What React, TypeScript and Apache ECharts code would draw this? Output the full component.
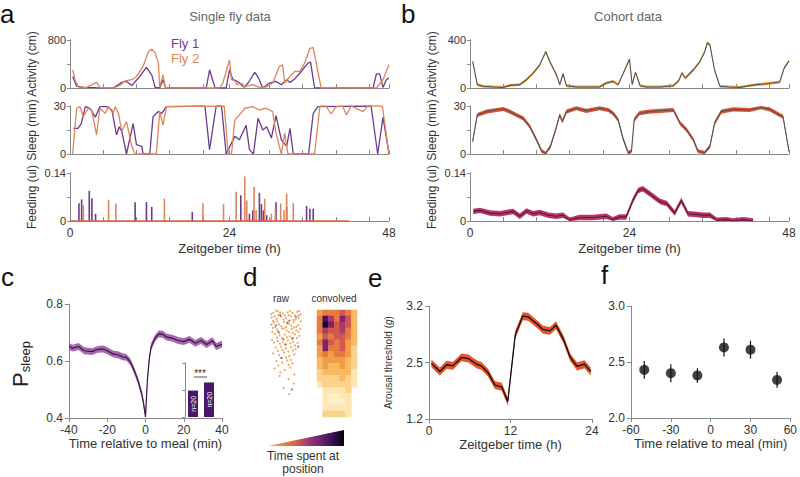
import React, { useEffect, useRef } from "react";
import * as echarts from "echarts";

const FONT = "'Liberation Sans', Arial, Helvetica, sans-serif";
const AXIS = "#8a8a8a";
const TXT = "#333";

// ---------- Panel a: single fly data (Zeitgeber time h) ----------
const FLY1_ACTIVITY = [[0.4,193],[1,30],[2,10],[4,5],[6.5,0],[7.8,94],[8.5,110],[9.3,40],[10.3,166],[11.5,342],[12.3,220],[12.8,10],[13.5,0],[14,138],[14.4,0],[20.5,0],[21,304],[21.8,10],[22.5,0],[23.5,0],[24,304],[24.5,138],[25,121],[25.5,83],[26.2,10],[26.8,83],[27.8,260],[28.3,182],[29,0],[30,83],[31,110],[31.8,55],[32.6,138],[33.1,90],[33.8,149],[34.5,237],[35.8,414],[36.2,430],[36.8,0],[45.6,0],[46.1,237],[46.6,237],[47.1,10],[47.6,138],[48,166]];
const FLY2_ACTIVITY = [[0.4,304],[0.75,138],[1.25,17],[2.5,10],[4,94],[4.5,10],[6.5,0],[7.5,40],[8.3,120],[9.3,138],[10,193],[11,360],[11.8,607],[12.3,646],[12.8,590],[13.3,414],[13.5,17],[14,220],[14.3,17],[14.5,0],[22.5,0],[23,83],[24,469],[24.3,138],[24.8,121],[25.1,55],[25.8,83],[26.3,17],[27.5,55],[28.5,10],[29.5,17],[30.5,83],[31.5,360],[32,386],[32.3,83],[33,182],[33.8,276],[34.6,276],[35.3,414],[36.1,662],[36.6,673],[37.1,386],[37.8,0],[39.6,8],[40,0],[46.1,0],[47.1,138],[48,386]];
const FLY1_SLEEP = [[0.5,16],[1.2,16],[1.7,19],[2.3,29.6],[3,28.6],[3.8,23],[4.5,29.6],[5.5,29.6],[6.3,27.5],[7,12],[7.4,17],[7.8,14],[8.5,0],[9.5,19],[10,5.8],[10.8,4.8],[11,0],[12,0],[12.5,23.4],[13.3,26.5],[13.8,25.4],[14.5,29.6],[20.3,30],[21,2.7],[22,30],[22.8,30],[23.5,0],[24.8,11],[25.5,8.9],[26.5,18],[27,2.7],[27.6,0],[28.3,22.4],[29,15],[29.6,17],[30.3,10],[31,24],[31.8,8.9],[32.6,4.8],[33.1,16],[33.6,0],[35.9,0],[36.6,25.4],[37.3,29.6],[45.3,30],[46.3,0],[47.1,23],[48,0]];
const FLY2_SLEEP = [[0.4,0],[1,28.6],[1.5,29.6],[2,23.4],[2.75,28.6],[3.25,27.5],[4,12],[4.5,28.6],[5.3,25.4],[5.8,29.6],[6.5,25.4],[6.8,29.6],[7.3,25.4],[7.8,14],[8.5,20.3],[9.3,4.8],[9.8,0],[13,0],[13.5,26.5],[14,18],[14.5,29.6],[23.2,30],[23.8,0],[24.3,0],[24.8,21.3],[25.5,24.4],[26.3,28.6],[27.5,29.6],[28.5,27.5],[29.5,28.6],[30.5,26.5],[31,13],[31.5,4.8],[31.8,0],[32.3,13],[32.8,0],[36.8,0],[37.6,30],[38.5,30],[39.3,25],[40,29.5],[41,30],[41.6,24.4],[42.3,30],[44.1,26.5],[44.8,30],[47,30],[48,0]];
const FLY1_FEEDING = [[1.35,0.052],[1.75,0.063],[2.9,0.088],[3.3,0.066],[3.85,0.021],[9.8,0.055],[11.5,0.055],[12.3,0.041],[18.4,0.026],[25.7,0.075],[27,0.021],[27.5,0.031],[28.5,0.082],[28.8,0.05],[29.1,0.031],[29.6,0.017],[31,0.055],[32.6,0.041],[35.6,0.044],[36.1,0.036],[36.6,0.036]];
const FLY2_FEEDING = [[2,0.046],[5.8,0.062],[6.9,0.051],[14.2,0.065],[20,0.052],[23.1,0.049],[25,0.085],[26.3,0.13],[26.6,0.06],[27.7,0.099],[28,0.031],[29.3,0.065],[30.3,0.021],[30.9,0.036],[31.7,0.051],[32.2,0.031],[32.6,0.08],[33.6,0.052]];
const FEED_BASELINE = [[0, 0], [42, 0]];

// ---------- Panel b: cohort data ----------
const COHORT_ACTIVITY = [[0.4,221],[1.1,28],[2,14],[3.5,8],[5,5],[6,22],[7.5,28],[8.5,69],[9.5,124],[10.5,193],[11.4,303],[12,221],[13,110],[13.5,28],[14,119],[14.5,19],[16,8],[18,8],[19.5,8],[20.5,41],[21.5,55],[22.3,28],[24,240],[24.4,28],[24.9,130],[25.6,19],[26.6,8],[28.6,8],[30.6,19],[31.4,60],[31.9,125],[32.4,83],[33.6,150],[34.6,220],[35.3,300],[35.7,375],[36.1,360],[36.8,150],[37.6,15],[39,8],[40.6,5],[43.1,28],[44.6,35],[46.6,50],[47.3,170],[48,225]];
const COHORT_ACTIVITY_SEM = 12;
const COHORT_SLEEP = [[0.4,7.9],[1.1,24.4],[2.5,26.5],[4,27.5],[5,28.1],[6,26.5],[7,24.4],[8,22.3],[9,17.2],[10,8.9],[10.8,1.7],[11.4,0.2],[12.1,4.8],[12.8,14],[13.5,24.4],[13.9,20.3],[14.5,26.5],[16,28.6],[17.5,27],[19.5,28.6],[20.8,27.5],[21.5,25.5],[22.3,21.3],[23,10],[23.8,0.6],[24.3,1.7],[24.7,21.3],[25.5,25.5],[27,26.5],[28.6,27],[30.6,27.5],[31.6,19.3],[32.6,15.1],[33.6,8.9],[34.3,1.7],[35.3,0.6],[36.1,4.8],[36.8,19.3],[37.8,26.5],[39.6,27.9],[42.1,27.5],[43.8,29.2],[45.1,27.9],[46.6,24.4],[47.1,23.4],[48,1.7]];
const COHORT_SLEEP_SEM = 1.3;
const COHORT_FEEDING = [[0.5,0.028],[1.5,0.031],[3,0.023],[4.5,0.021],[6.5,0.028],[7.5,0.014],[8.5,0.029],[9.5,0.021],[10.5,0.025],[11.8,0.017],[13,0.014],[14,0.017],[15,0.002],[16.5,0.01],[18.5,0.01],[20.5,0.014],[21.5,0.004],[22.5,0.012],[23.5,0.012],[24.5,0.06],[25.3,0.089],[26,0.094],[27,0.08],[28.6,0.057],[29.6,0.051],[30.8,0.023],[31.8,0.06],[32.8,0.021],[34.1,0.019],[35.1,0.017],[36.1,0.017],[37.1,0.002],[38.6,0.004],[39.6,0],[41.1,0.004],[42.6,0]];
const COHORT_FEEDING_SEM = 0.008;

const TICKS_48 = [0, 5, 10, 15, 20, 24, 30, 35, 40, 45, 48];
const LABELS_48 = [0, 24, 48];

// ---------- Panel c: P(sleep) around meals ----------
const C_MINUTES = [-40,-38,-35,-32,-28,-25,-22,-20,-17,-14,-12,-10,-8,-6,-4,-2,-1,0,1,2,3,5,7,9,11,14,17,20,23,26,29,32,35,37,40];
const C_PSLEEP = [0.651,0.645,0.651,0.636,0.633,0.641,0.642,0.636,0.625,0.621,0.615,0.613,0.598,0.568,0.533,0.486,0.451,0.404,0.533,0.609,0.651,0.68,0.695,0.694,0.684,0.68,0.672,0.668,0.676,0.662,0.672,0.658,0.671,0.651,0.659];
const C_SEM = 0.012;
const INSET_CATS = ["before", "after"];
const INSET_VALUES = [0.49, 0.64];
const INSET_N = ["n=20", "n=20"];

// ---------- Panel d: position heat maps ----------
const RAW_DOTS = [[1,1],[2.5,0.5],[4,1.2],[5.5,0.8],[7,1],[8.5,0.6],[9.5,1.5],[0.5,2.5],[2,3],[3.5,2.2],[5,2.8],[6.5,2.1],[8,3.2],[9,2.6],[1.2,4.2],[2.8,4.8],[4.4,4],[6,4.6],[7.4,4.1],[8.8,5],[0.8,6],[2.2,6.5],[3.8,6.2],[5.2,6.9],[6.8,6.3],[8.2,6.8],[1.5,8],[3,8.5],[4.6,8.2],[6.2,8.8],[7.8,8.1],[9.2,8.6],[0.6,10],[2.4,10.4],[4,10.8],[5.6,10.2],[7.2,10.6],[8.6,11],[1.8,12.5],[3.4,12.2],[5,12.8],[6.6,12.4],[8,13],[1,14.5],[2.8,15],[4.4,14.2],[6,15.4],[7.6,14.8],[2,17],[3.8,17.5],[5.4,16.8],[7,17.8],[1.4,19.5],[4.6,20],[6.4,19.2],[3,22],[5.8,23],[7.4,24.5],[4.2,26],[6,28],
  [1.8,0.2],[3.2,0.9],[6.2,0.4],[7.8,1.8],[9.1,0.3],[0.3,1.4],[4.7,1.9],[1.4,2.1],[2.7,1.6],[5.8,1.7],[8.9,1.9],[0.9,3.6],[2.3,3.8],[4.2,3.2],[5.6,3.9],[7.3,3.4],[9.6,3.8],[0.4,4.9],[3.5,5.4],[5,5.7],[6.7,5.3],[8.2,5.6],[1.6,5.8],[4.4,6.1],[7.5,5.9],[9.4,6.4],[0.7,7.3],[2.9,7.6],[5.9,7.4],[7.1,7.6],[8.9,7.4],[2.2,9.2],[3.7,9.4],[5.3,9.1],[6.9,9.6],[8.4,9.3],[1.2,10.9],[3.1,11.3],[4.9,11.5],[6.4,11.1],[7.8,11.8],[2.5,13.6],[4,13.4],[5.7,13.9],[7.2,13.5],[3.4,16],[5,15.8],[6.5,16.6],[2.6,18.5],[5.8,18.4],[3.2,20.8],[7.6,21.5]];
const RAW_DARK_DOTS = [[3.2,1.8],[6.1,3.5],[2.6,7.2],[7.1,9.4],[4.8,11.5],[3.6,16],[6.8,26.5],[8.1,2.4],[1.9,5.1],[5.4,4.4],[4.2,9.8],[8.8,12.2]];
const CONVOLVED = [
  [4,5,5,5,6,5,3],
  [5,9,7,5,8,6,3],
  [5,10,8,6,7,6,3],
  [5,7,6,6,7,5,3],
  [4,6,5,6,6,5,3],
  [5,8,6,5,6,4,3],
  [4,8,5,5,6,4,2],
  [4,5,4,5,5,4,2],
  [3,4,4,4,4,3,2],
  [3,4,3,3,4,3,2],
  [2,3,3,3,3,3,1],
  [2,2,2,2,3,2,1],
  [1,2,2,2,2,2,1],
  [0,1,1,1,1,2,0],
  [0,1,0.6,0.6,1,1,0],
  [0,1,0.6,0.6,0.6,1,0],
  [0,1,1,1,1,1,0],
  [0,2,2,2,2,1,0],
];

// ---------- Panel e: arousal threshold over the day ----------
const E_HOURS = [0.35,1.6,2.6,3.5,4.8,5.8,7,7.7,8.7,9.7,10.7,11.6,12.7,13.8,14.6,15.9,16.8,17.8,18.7,19.8,20.8,21.8,22.9,23.8];
const E_THRESHOLD = [2.185,2.04,2.16,2.14,2.29,2.27,2.17,2.14,2.02,1.8,1.77,1.51,2.69,3.02,3.01,2.88,2.78,2.76,2.86,2.61,2.29,2.13,2.17,2.04];
const E_SEM = 0.07;
const E_TICK_VALUES = [1.2, 2.2, 3.2];
const E_TICK_LABELS = ["1.2", "2.5", "3.2"];

// ---------- Panel f: arousal threshold around meals ----------
const F_MINUTES = [-50, -30, -10, 10, 30, 50];
const F_MEAN = [2.43, 2.40, 2.38, 2.63, 2.61, 2.34];
const F_ERR = [0.08, 0.08, 0.065, 0.08, 0.08, 0.07];

function gridAt(left: number, top: number, width: number, height: number) {
  return { left, top, width, height, containLabel: false };
}

function lineSeries(ai: number, data: any[], color: string, width = 1.2, z = 3) {
  return {
    type: "line", xAxisIndex: ai, yAxisIndex: ai, data, symbol: "none", showSymbol: false,
    lineStyle: { color, width }, itemStyle: { color }, z, silent: true,
  };
}

// mean ± sem band drawn as one polygon through the axes' scales
function bandSeries(ai: number, pairs: number[][], err: number, color: string, opacity: number, lo: number, hi: number) {
  return {
    type: "custom", xAxisIndex: ai, yAxisIndex: ai, silent: true, z: 1,
    data: pairs.map((p) => [p[0], p[1] - err, p[1] + err]),
    renderItem: (params: any, api: any) => {
      if (params.dataIndex !== 0) return null;
      const upper = pairs.map((p) => api.coord([p[0], Math.min(hi, p[1] + err)]));
      const lower = pairs.map((p) => api.coord([p[0], Math.max(lo, p[1] - err)])).reverse();
      return { type: "polygon", shape: { points: upper.concat(lower) }, style: { fill: color, opacity } };
    },
  };
}

const baseLabel = { color: TXT, fontSize: 11, fontFamily: FONT };

function timeAxis(gi: number, showLabels: boolean) {
  return {
    gridIndex: gi, type: "value", min: 0, max: 48,
    axisLine: { show: true, onZero: false, lineStyle: { color: AXIS } },
    axisTick: { show: true, inside: true, length: 4, customValues: TICKS_48, lineStyle: { color: AXIS } },
    axisLabel: showLabels ? { ...baseLabel, fontSize: 12, customValues: LABELS_48, margin: 6 } : { show: false },
    splitLine: { show: false },
    name: showLabels ? "Zeitgeber time (h)" : "",
    nameLocation: "middle", nameGap: 21,
    nameTextStyle: { color: TXT, fontSize: 13, fontFamily: FONT },
  };
}

function rowAxis(gi: number, max: number, name: string) {
  return {
    gridIndex: gi, type: "value", min: 0, max,
    axisLine: { show: true, onZero: false, lineStyle: { color: AXIS } },
    axisTick: { show: true, length: 3, customValues: [0, max / 2, max], lineStyle: { color: AXIS } },
    axisLabel: { ...baseLabel, fontSize: 11, customValues: [0, max], margin: 4 },
    splitLine: { show: false },
    name, nameLocation: "middle", nameGap: 32,
    nameTextStyle: { color: TXT, fontSize: 12, fontFamily: FONT },
  };
}

function plainAxis(gi: number, extra: any) {
  return {
    gridIndex: gi, type: "value",
    axisLine: { show: true, onZero: false, lineStyle: { color: AXIS } },
    axisTick: { show: true, length: 4, lineStyle: { color: AXIS } },
    axisLabel: { ...baseLabel, fontSize: 12, margin: 6 },
    splitLine: { show: false },
    nameLocation: "middle",
    nameTextStyle: { color: TXT, fontSize: 13, fontFamily: FONT },
    ...extra,
  };
}

function hiddenAxis(gi: number, extra: any) {
  return { gridIndex: gi, show: false, splitLine: { show: false }, ...extra };
}

function buildOption() {
  const grids = [
    gridAt(70, 40, 319, 48), gridAt(70, 106, 319, 48), gridAt(70, 173, 319, 48),
    gridAt(470, 40, 319, 48), gridAt(470, 106, 319, 48), gridAt(470, 173, 319, 48),
    gridAt(69, 304, 153, 114),
    gridAt(185, 363, 32, 54),
    gridAt(270, 310, 32, 90),
    gridAt(317, 310, 40, 107),
    gridAt(429, 306, 163, 113),
    gridAt(631, 306, 164, 112),
  ];

  const xAxis: any[] = [
    timeAxis(0, false), timeAxis(1, false), timeAxis(2, true),
    timeAxis(3, false), timeAxis(4, false), timeAxis(5, true),
    plainAxis(6, { min: -40, max: 40, interval: 20, name: "Time relative to meal (min)", nameGap: 18 }),
    hiddenAxis(7, { type: "category", data: INSET_CATS }),
    hiddenAxis(8, { type: "value", min: 0, max: 10 }),
    hiddenAxis(9, { type: "category", data: CONVOLVED[0].map((_, i) => i) }),
    plainAxis(10, { min: 0, max: 24, interval: 12, name: "Zeitgeber time (h)", nameGap: 19 }),
    plainAxis(11, { min: -60, max: 60, interval: 30, name: "Time relative to meal (min)", nameGap: 19 }),
  ];

  const yAxis: any[] = [
    rowAxis(0, 800, "Activity (cm)"), rowAxis(1, 30, "Sleep (min)"), rowAxis(2, 0.14, "Feeding (ul)"),
    rowAxis(3, 400, "Activity (cm)"), rowAxis(4, 30, "Sleep (min)"), rowAxis(5, 0.14, "Feeding (ul)"),
    plainAxis(6, { min: 0.4, max: 0.8, interval: 0.2 }),
    plainAxis(7, { min: 0, max: 1, interval: 0.5, axisLabel: { show: false }, axisTick: { show: true, length: 3, lineStyle: { color: AXIS } } }),
    hiddenAxis(8, { type: "value", min: 0, max: 30, inverse: true }),
    hiddenAxis(9, { type: "category", data: CONVOLVED.map((_, i) => i), inverse: true }),
    plainAxis(10, {
      min: 1.2, max: 3.2,
      axisTick: { show: true, length: 4, customValues: E_TICK_VALUES, lineStyle: { color: AXIS } },
      axisLabel: {
        ...baseLabel, fontSize: 12, margin: 6, customValues: E_TICK_VALUES,
        formatter: (v: number) => {
          let best = 0;
          E_TICK_VALUES.forEach((t, i) => { if (Math.abs(t - v) < Math.abs(E_TICK_VALUES[best] - v)) best = i; });
          return E_TICK_LABELS[best];
        },
      },
      name: "{n|Arousal threshold (}{i|g}{n|)}", nameGap: 36,
      nameTextStyle: { rich: { n: { fontSize: 10, color: TXT, fontFamily: FONT }, i: { fontSize: 10, color: TXT, fontStyle: "italic", fontFamily: FONT } } },
    }),
    plainAxis(11, { min: 2.0, max: 3.0, interval: 0.5, axisLabel: { ...baseLabel, fontSize: 12, margin: 6, formatter: (v: number) => v.toFixed(1) } }),
  ];

  const PURPLE = "#6b3a8e";
  const ORANGE = "#e0845a";

  const series: any[] = [];
  // a
  series.push(lineSeries(0, FLY1_ACTIVITY, PURPLE, 1.3, 3));
  series.push(lineSeries(0, FLY2_ACTIVITY, ORANGE, 1.3, 4));
  series.push(lineSeries(1, FLY1_SLEEP, PURPLE, 1.3, 3));
  series.push(lineSeries(1, FLY2_SLEEP, ORANGE, 1.3, 4));
  series.push({ type: "bar", xAxisIndex: 2, yAxisIndex: 2, data: FLY1_FEEDING, barWidth: 1.6, barGap: "-100%", itemStyle: { color: PURPLE }, silent: true, z: 3 });
  series.push({ type: "bar", xAxisIndex: 2, yAxisIndex: 2, data: FLY2_FEEDING, barWidth: 1.6, barGap: "-100%", itemStyle: { color: ORANGE }, silent: true, z: 3 });
  series.push(lineSeries(2, FEED_BASELINE, "#e0603a", 1.4, 4));
  // b
  series.push(bandSeries(3, COHORT_ACTIVITY, COHORT_ACTIVITY_SEM, "#f0a030", 0.95, 0, 400));
  series.push(lineSeries(3, COHORT_ACTIVITY, "#555555", 1.1));
  series.push(bandSeries(4, COHORT_SLEEP, COHORT_SLEEP_SEM, "#dc4a2a", 0.95, 0, 30));
  series.push(lineSeries(4, COHORT_SLEEP, "#555555", 1.1));
  series.push(bandSeries(5, COHORT_FEEDING, COHORT_FEEDING_SEM, "#b32a5e", 0.95, 0, 0.14));
  series.push(lineSeries(5, COHORT_FEEDING, "#5a1a40", 1.1));
  // c
  const cPairs = C_MINUTES.map((m, i) => [m, C_PSLEEP[i]]);
  series.push(bandSeries(6, cPairs, C_SEM, "#9c58a6", 0.9, 0.4, 0.8));
  series.push(lineSeries(6, cPairs, "#3a1646", 1.2));
  series.push({
    type: "bar", xAxisIndex: 7, yAxisIndex: 7, barWidth: 10, silent: true,
    data: INSET_VALUES.map((v, i) => ({ value: v, label: { formatter: INSET_N[i] } })),
    itemStyle: { color: "#4b1768" },
    label: { show: true, position: "inside", rotate: 90, color: "#fff", fontSize: 7, fontFamily: FONT },
  });
  // d
  series.push({ type: "scatter", xAxisIndex: 8, yAxisIndex: 8, data: RAW_DOTS, symbolSize: 2, itemStyle: { color: "#eb9a48", opacity: 0.9 }, silent: true });
  series.push({ type: "scatter", xAxisIndex: 8, yAxisIndex: 8, data: RAW_DARK_DOTS, symbolSize: 2, itemStyle: { color: "#9a4a2a" }, silent: true });
  const heatData: number[][] = [];
  CONVOLVED.forEach((row, r) => row.forEach((v, c) => { if (v > 0) heatData.push([c, r, v]); }));
  const heatIndex = series.length;
  series.push({ type: "heatmap", xAxisIndex: 9, yAxisIndex: 9, data: heatData, silent: true, itemStyle: { borderWidth: 0 } });
  // e
  const ePairs = E_HOURS.map((h, i) => [h, E_THRESHOLD[i]]);
  series.push(bandSeries(10, ePairs, E_SEM, "#e8532b", 1, 1.2, 3.2));
  series.push(lineSeries(10, ePairs, "#111111", 1.3));
  // f
  series.push({
    type: "custom", xAxisIndex: 11, yAxisIndex: 11, silent: true,
    data: F_MINUTES.map((m, i) => [m, F_MEAN[i] - F_ERR[i], F_MEAN[i] + F_ERR[i]]),
    renderItem: (params: any, api: any) => {
      const p1 = api.coord([api.value(0), api.value(1)]);
      const p2 = api.coord([api.value(0), api.value(2)]);
      return { type: "line", shape: { x1: p1[0], y1: p1[1], x2: p2[0], y2: p2[1] }, style: { stroke: "#111", lineWidth: 1.2 } };
    },
  });
  series.push({ type: "scatter", xAxisIndex: 11, yAxisIndex: 11, data: F_MINUTES.map((m, i) => [m, F_MEAN[i]]), symbolSize: 10, itemStyle: { color: "#111" }, silent: true, z: 5 });

  const letter = (t: string, x: number, y: number) => ({
    type: "text", x, y, silent: true,
    style: { text: t, fill: "#111", fontSize: 26, fontFamily: FONT, verticalAlign: "middle", align: "left" },
  });
  const txt = (t: string, x: number, y: number, size: number, color = TXT, align = "center") => ({
    type: "text", x, y, silent: true,
    style: { text: t, fill: color, fontSize: size, fontFamily: FONT, verticalAlign: "middle", align },
  });

  const graphic: any[] = [
    letter("a", 0, 14), letter("b", 401, 14), letter("c", 1, 277), letter("d", 243, 277), letter("e", 368, 278), letter("f", 601, 275),
    txt("Single fly data", 230, 16, 13, "#666"),
    txt("Cohort data", 628, 16, 13, "#666"),
    txt("Fly 1", 171, 43, 13, PURPLE, "left"),
    txt("Fly 2", 171, 58, 13, ORANGE, "left"),
    {
      type: "text", x: 20, y: 364, rotation: Math.PI / 2, silent: true,
      style: {
        text: "{p|P}{s|sleep}", align: "center", verticalAlign: "middle",
        rich: {
          p: { fontSize: 22, lineHeight: 24, verticalAlign: "middle", fill: "#222", fontFamily: FONT },
          s: { fontSize: 13, lineHeight: 6, verticalAlign: "bottom", fill: "#222", fontFamily: FONT },
        },
      },
    },
    txt("***", 200, 373, 10, "#333"),
    { type: "line", silent: true, shape: { x1: 194, y1: 377, x2: 207, y2: 377 }, style: { stroke: "#555", lineWidth: 1 } },
    txt("raw", 281, 298, 10),
    txt("convolved", 334, 298, 10),
    {
      type: "polygon", silent: true,
      shape: { points: [[268, 446], [344, 446], [344, 430]] },
      style: {
        fill: new echarts.graphic.LinearGradient(0, 0, 1, 0, [
          { offset: 0, color: "#f6a848" },
          { offset: 0.3, color: "#e2703c" },
          { offset: 0.6, color: "#8e2a7a" },
          { offset: 0.82, color: "#3e1460" },
          { offset: 1, color: "#080010" },
        ]),
      },
    },
    txt("Time spent at", 303, 456, 12),
    txt("position", 303, 469, 12),
  ];

  return {
    animation: false,
    backgroundColor: "#ffffff",
    textStyle: { fontFamily: FONT },
    grid: grids,
    xAxis,
    yAxis,
    visualMap: [{
      type: "continuous", show: false, seriesIndex: heatIndex, min: 0.5, max: 10,
      inRange: { color: ["#fdf0c8", "#fbd690", "#f7b45a", "#ee8a3a", "#d35a4a", "#a1306e", "#5e1672", "#1a0630"] },
    }],
    series,
    graphic,
  };
}

export default function App() {
  const ref = useRef<HTMLDivElement>(null);
  useEffect(() => {
    document.body.style.margin = "0";
    const chart = echarts.init(ref.current!, null, { renderer: "svg" });
    chart.setOption(buildOption() as any);
    return () => chart.dispose();
  }, []);
  return <div ref={ref} style={{ width: 800, height: 477 }} />;
}
